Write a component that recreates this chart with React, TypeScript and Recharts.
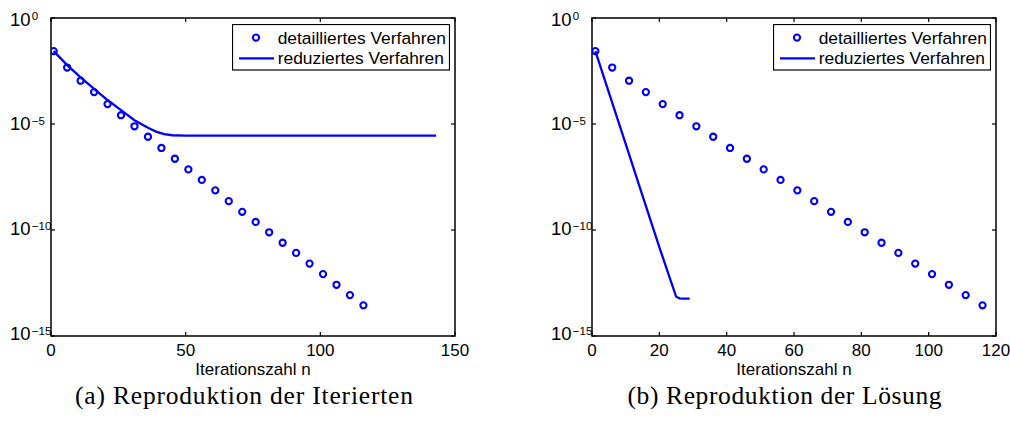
import { ComposedChart, XAxis, YAxis, Scatter, Line, Legend, ReferenceArea } from 'recharts';

// error per iteration
const detailedN = [1, 6, 11, 16, 21, 26, 31, 36, 41, 46, 51, 56, 61, 66, 71, 76, 81, 86, 91, 96, 101, 106, 111, 116];
const detailedErr = [
  2.75e-2, 4.6e-3, 1.1e-3, 3.2e-4, 8.7e-5, 2.6e-5, 7.8e-6, 2.5e-6, 7.4e-7, 2.3e-7, 7.2e-8, 2.3e-8,
  7.4e-9, 2.3e-9, 7.2e-10, 2.4e-10, 7.8e-11, 2.5e-11, 8.3e-12, 2.6e-12, 8.3e-13, 2.6e-13, 8.5e-14, 2.8e-14,
];

const reducedIterN = [1, 6, 11, 16, 21, 26, 31, 36, 39, 42, 45, 50, 80, 110, 143];
const reducedIterErr = [2.75e-2, 6.0e-3, 1.6e-3, 4.5e-4, 1.35e-4, 4.5e-5, 1.5e-5, 6.6e-6, 4.4e-6, 3.3e-6, 2.95e-6, 2.8e-6, 2.85e-6, 2.85e-6, 2.85e-6];

const reducedSolN = [1, 5, 10, 15, 20, 25, 26, 27, 28, 29];
const reducedSolErr = [2.75e-2, 3.1e-4, 1.15e-6, 4.2e-9, 1.55e-11, 7.1e-14, 6.0e-14, 5.75e-14, 5.75e-14, 5.75e-14];

const xTicksIter = [0, 50, 100, 150];
const xTicksSol = [0, 20, 40, 60, 80, 100, 120];
const yTicks = [1e-15, 1e-10, 1e-5, 1];

const BLUE = '#0000ff';
const SANS = '"Liberation Sans", Arial, Helvetica, sans-serif';
const SERIF = '"Liberation Serif", "Times New Roman", serif';
const PLOT_TOP = 18;
const PLOT_BOTTOM = 336;
const TICK = 4;

const toRows = (ns: number[], vs: number[]) => ns.map((n, i) => ({ n, y: vs[i] }));

const xTick = (props: any) => {
  const { x, payload } = props;
  return (
    <g>
      <line x1={x} x2={x} y1={PLOT_BOTTOM} y2={PLOT_BOTTOM - TICK} stroke="#000" strokeWidth={1.2} />
      <line x1={x} x2={x} y1={PLOT_TOP} y2={PLOT_TOP + TICK} stroke="#000" strokeWidth={1.2} />
      <text x={x} y={PLOT_BOTTOM + 20} textAnchor="middle" fontSize={17} fontFamily={SANS} fill="#000">
        {payload.value}
      </text>
    </g>
  );
};

const makeYTick = (plotLeft: number, plotRight: number) => (props: any) => {
  const { y, payload } = props;
  const exp = Math.round(Math.log10(payload.value));
  const shift = exp === 0 ? 7.7 : exp === -15 ? 4 : exp === -10 ? 5 : 6;
  return (
    <g>
      <line x1={plotLeft} x2={plotLeft + TICK} y1={y} y2={y} stroke="#000" strokeWidth={1.2} />
      <line x1={plotRight} x2={plotRight - TICK} y1={y} y2={y} stroke="#000" strokeWidth={1.2} />
      <text x={plotLeft - 41} y={y + shift} fontSize={18.5} fontFamily={SANS} fill="#000">
        10
        <tspan dx={1.2} dy={-5.5} fontSize={11.5}>
          {exp === 0 ? '0' : '\u2212' + Math.abs(exp)}
        </tspan>
      </text>
    </g>
  );
};

const LegendBox = ({ payload }: any) => {
  const items = payload || [];
  return (
    <svg width={218} height={47} style={{ display: 'block' }}>
      <rect x={0.5} y={0.5} width={217} height={45.5} fill="#fff" stroke="#000" strokeWidth={1.2} />
      {items.map((item: any, i: number) => {
        const cy = 13.6 + i * 20.7;
        return (
          <g key={item.value}>
            {item.type === 'line' ? (
              <line x1={7} x2={42} y1={cy} y2={cy} stroke={BLUE} strokeWidth={2.3} />
            ) : (
              <circle cx={24} cy={cy} r={3.1} fill="none" stroke={BLUE} strokeWidth={2.1} />
            )}
            <text x={45.7} y={cy + 6} fontSize={17.4} fontFamily={SANS} fill="#000">
              {item.value}
            </text>
          </g>
        );
      })}
    </svg>
  );
};

const ringShape = (props: any) => (
  <circle cx={props.cx} cy={props.cy} r={3.1} fill="none" stroke={BLUE} strokeWidth={2.1} />
);

interface PanelProps {
  left: number;
  width: number;
  yAxisWidth: number;
  rightMargin: number;
  xMax: number;
  xTicks: number[];
  lineRows: { n: number; y: number }[];
  legendLeft: number;
}

const Panel = ({ left, width, yAxisWidth, rightMargin, xMax, xTicks, lineRows, legendLeft }: PanelProps) => {
  const plotLeft = yAxisWidth;
  const plotRight = width - rightMargin;
  return (
    <div style={{ position: 'absolute', left, top: 0 }}>
      <ComposedChart width={width} height={386} margin={{ top: PLOT_TOP, right: rightMargin, bottom: 0, left: 0 }}>
        <XAxis
          type="number"
          dataKey="n"
          domain={[0, xMax]}
          ticks={xTicks}
          allowDataOverflow
          height={50}
          axisLine={false}
          tickLine={false}
          tick={xTick}
          label={{ value: 'Iterationszahl n', position: 'insideBottom', offset: 11, fontSize: 17, fontFamily: SANS, fill: '#000' }}
        />
        <YAxis
          type="number"
          scale="log"
          domain={[1e-15, 1]}
          ticks={yTicks}
          allowDataOverflow
          width={yAxisWidth}
          axisLine={false}
          tickLine={false}
          tick={makeYTick(plotLeft, plotRight)}
        />
        <ReferenceArea x1={0} x2={xMax} y1={1e-15} y2={1} fill="none" stroke="#000" strokeWidth={1.5} fillOpacity={0} />
        <Scatter
          name="detailliertes Verfahren"
          data={toRows(detailedN, detailedErr)}
          dataKey="y"
          legendType="circle"
          shape={ringShape}
          isAnimationActive={false}
        />
        <Line
          name="reduziertes Verfahren"
          data={lineRows}
          dataKey="y"
          type="linear"
          stroke={BLUE}
          strokeWidth={2.3}
          dot={false}
          legendType="line"
          isAnimationActive={false}
        />
        <Legend
          layout="vertical"
          align="center"
          verticalAlign="middle"
          content={LegendBox}
          wrapperStyle={{ left: legendLeft, top: 23.7, width: 218, height: 47 }}
        />
      </ComposedChart>
    </div>
  );
};

export default function App() {
  return (
    <div style={{ position: 'absolute', left: 0, top: 0, width: 1010, height: 421, background: '#fff' }}>
      <Panel
        left={0}
        width={470}
        yAxisWidth={51}
        rightMargin={15}
        xMax={150}
        xTicks={xTicksIter}
        lineRows={toRows(reducedIterN, reducedIterErr)}
        legendLeft={232}
      />
      <Panel
        left={510}
        width={500}
        yAxisWidth={82}
        rightMargin={14}
        xMax={120}
        xTicks={xTicksSol}
        lineRows={toRows(reducedSolN, reducedSolErr)}
        legendLeft={262.7}
      />
      <svg width={1010} height={421} style={{ position: 'absolute', left: 0, top: 0, pointerEvents: 'none' }}>
        <text x={75} y={404} fontSize={25.5} fontFamily={SERIF} textLength={338} lengthAdjust="spacing" fill="#000">
          (a) Reproduktion der Iterierten
        </text>
        <text x={627.5} y={404} fontSize={25.5} fontFamily={SERIF} textLength={314} lengthAdjust="spacing" fill="#000">
          (b) Reproduktion der Lösung
        </text>
      </svg>
    </div>
  );
}
